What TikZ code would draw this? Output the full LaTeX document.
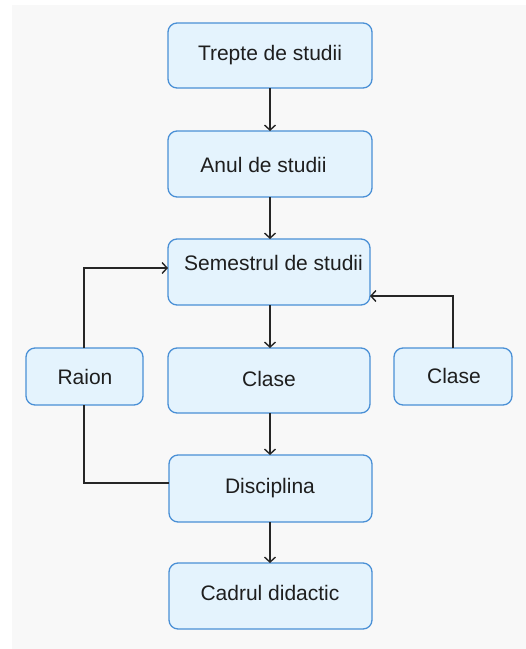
\documentclass[tikz,border=0pt]{standalone}
\usepackage{fontspec}
\setmainfont{Liberation Sans}
\usetikzlibrary{arrows.meta}
\definecolor{boxfill}{HTML}{E4F3FD}
\definecolor{boxline}{HTML}{4A90D6}
\definecolor{bgray}{HTML}{F8F8F8}
\definecolor{txt}{HTML}{1E1E1E}
\tikzset{
  box/.style={draw=boxline, line width=1.3pt, fill=boxfill, rounded corners=9pt},
  lbl/.style={text=txt, font=\fontsize{21}{24}\selectfont, inner sep=0pt, anchor=center},
  conn/.style={draw=black!85, line width=1.5pt},
  arr/.style={conn, -{Straight Barb[length=5pt,width=11pt,line width=1.4pt]}}
}
\begin{document}
\begin{tikzpicture}[x=1pt,y=-1pt]
\useasboundingbox (0,0) rectangle (526,649);
\fill[white] (0,0) rectangle (526,649);
\fill[bgray] (12,5) rectangle (526,649);
% boxes
\draw[box] (168,23) rectangle (372,88);
\node[lbl] (t1) at (270,55) {Trepte de studii};
\coordinate (b1t) at (270,23); \coordinate (b1b) at (270,88);
\draw[box] (168,131) rectangle (372,197);
\node[lbl] (t2) at (263.5,165) {Anul de studii};
\coordinate (b2t) at (270,131); \coordinate (b2b) at (270,197);
\draw[box] (168,239) rectangle (370,305);
\node[lbl] (t3) at (273.5,263) {Semestrul de studii};
\coordinate (b3t) at (270,239); \coordinate (b3b) at (270,305);
\coordinate (b3l) at (168,268); \coordinate (b3r) at (370,296);
\draw[box] (168,348) rectangle (370,413);
\node[lbl] (t4) at (269,379) {Clase};
\coordinate (b4t) at (270,348); \coordinate (b4b) at (270,413);
\draw[box] (26,348) rectangle (143,405);
\node[lbl] (t5) at (85,377) {Raion};
\coordinate (b5t) at (84,348); \coordinate (b5b) at (84,405);
\draw[box] (394,348) rectangle (512,405);
\node[lbl] (t6) at (454,376) {Clase};
\coordinate (b6t) at (453,348);
\draw[box] (169,455) rectangle (372,522);
\node[lbl] (t7) at (270,488) {Disciplina};
\coordinate (b7t) at (270,455); \coordinate (b7b) at (270,522);
\coordinate (b7l) at (169,483);
\draw[box] (169,563) rectangle (372,629);
\node[lbl] (t8) at (270,593) {Cadrul didactic};
\coordinate (b8t) at (270,563);
% connectors
\draw[arr] (b1b) -- (b2t);
\draw[arr] (b2b) -- (b3t);
\draw[arr] (b3b) -- (b4t);
\draw[arr] (b4b) -- (b7t);
\draw[arr] (b7b) -- (b8t);
\draw[arr] (b5t) |- (b3l);
\draw[arr] (b6t) |- (b3r);
\draw[conn] (b5b) |- (b7l);
\end{tikzpicture}
\end{document}
